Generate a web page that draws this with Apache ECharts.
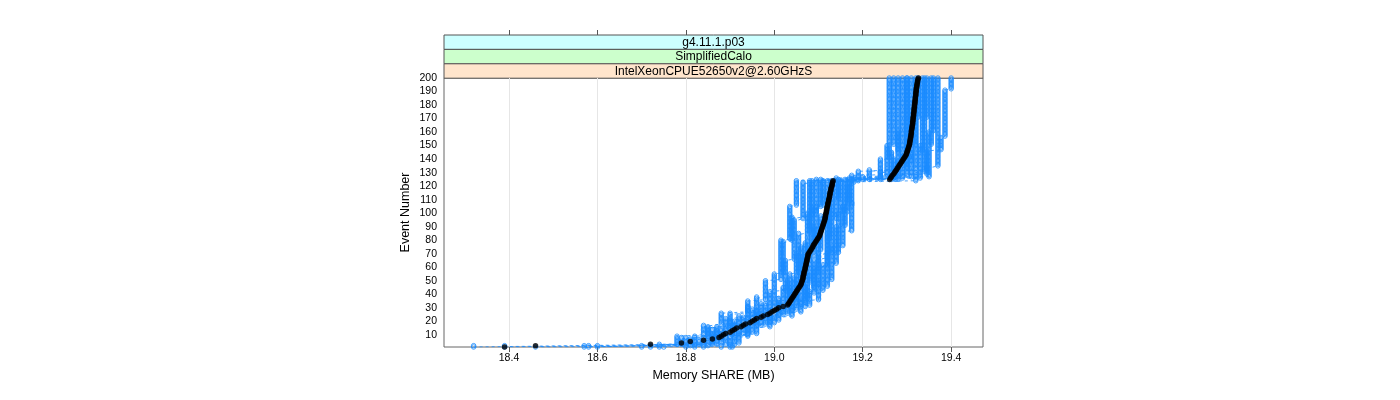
<!DOCTYPE html>
<html>
<head>
<meta charset="utf-8">
<title>Memory SHARE per event</title>
<script src="https://cdn.jsdelivr.net/npm/echarts@6/dist/echarts.min.js"></script>
<style>
  html, body { margin: 0; padding: 0; background: #fff; }
  #chart { width: 1400px; height: 400px; }
</style>
</head>
<body>
<div id="chart"></div>
<script>
// strip labels, outer to inner
var stripLabels = ['g4.11.1.p03', 'SimplifiedCalo', 'IntelXeonCPUE52650v2@2.60GHzS']
var stripColors = ['#ccffff', '#ccffcc', '#ffe5cc']

var xTicks = [18.4, 18.6, 18.8, 19.0, 19.2, 19.4]
var yTicks = [10, 20, 30, 40, 50, 60, 70, 80, 90, 100, 110, 120, 130, 140, 150, 160, 170, 180, 190, 200]

// median memory share (MB) for events 1..200
var medianShare = [
  18.39, 18.46, 18.72, 18.79, 18.81, 18.84, 18.86, 18.875, 18.88, 18.885,
  18.89, 18.90, 18.905, 18.91, 18.915, 18.925, 18.93, 18.935, 18.945, 18.95,
  18.955, 18.96, 18.97, 18.975, 18.985, 18.99, 18.995, 19.00, 19.005, 19.01,
  19.02, 19.03, 19.032, 19.034, 19.036, 19.038, 19.04, 19.042, 19.044, 19.046,
  19.048, 19.05, 19.052, 19.054, 19.056, 19.058, 19.06, 19.061, 19.062, 19.063,
  19.064, 19.065, 19.065, 19.066, 19.067, 19.067, 19.068, 19.069, 19.07, 19.07,
  19.071, 19.072, 19.072, 19.073, 19.074, 19.074, 19.075, 19.076, 19.076, 19.077,
  19.079, 19.081, 19.083, 19.085, 19.087, 19.088, 19.09, 19.092, 19.094, 19.096,
  19.098, 19.10, 19.102, 19.103, 19.104, 19.105, 19.106, 19.107, 19.108, 19.109,
  19.11, 19.111, 19.112, 19.113, 19.114, 19.115, 19.115, 19.116, 19.116, 19.117,
  19.118, 19.118, 19.119, 19.119, 19.12, 19.121, 19.121, 19.122, 19.123, 19.123,
  19.124, 19.125, 19.125, 19.126, 19.126, 19.127, 19.128, 19.128, 19.129, 19.13,
  19.131, 19.131, 19.132, 19.133, 19.261, 19.263, 19.265, 19.267, 19.27, 19.272,
  19.274, 19.276, 19.278, 19.28, 19.282, 19.284, 19.286, 19.288, 19.29, 19.292,
  19.294, 19.296, 19.298, 19.299, 19.30, 19.301, 19.302, 19.303, 19.304, 19.305,
  19.306, 19.306, 19.307, 19.307, 19.308, 19.308, 19.309, 19.309, 19.31, 19.31,
  19.31, 19.311, 19.311, 19.312, 19.312, 19.313, 19.313, 19.313, 19.314, 19.314,
  19.314, 19.315, 19.315, 19.315, 19.316, 19.316, 19.316, 19.317, 19.317, 19.317,
  19.318, 19.318, 19.318, 19.319, 19.319, 19.319, 19.32, 19.32, 19.32, 19.321,
  19.321, 19.321, 19.322, 19.322, 19.323, 19.323, 19.324, 19.324, 19.325, 19.326
]

// single runs, stored as [memory MB, number of consecutive events at that value]
var runA = [[18.32, 2], [18.78, 7], [18.84, 8], [18.88, 9], [18.94, 9], [18.98, 15], [19.015, 30], [19.035, 25], [19.05, 19], [19.24, 16], [19.26, 60]]
var runB = [[18.39, 2], [18.80, 6], [18.85, 7], [18.89, 7], [18.94, 9], [18.99, 11], [19.025, 23], [19.045, 30], [19.065, 28], [19.19, 3], [19.255, 24], [19.27, 50]]
var runC = [[18.46, 1], [18.81, 6], [18.86, 7], [18.90, 7], [18.95, 8], [19.00, 9], [19.035, 17], [19.055, 30], [19.08, 39], [19.265, 21], [19.28, 55]]
var runD = [[18.57, 2], [18.82, 7], [18.87, 7], [18.92, 8], [18.97, 9], [19.02, 12], [19.05, 25], [19.075, 30], [19.095, 25], [19.27, 15], [19.29, 60]]
var runE = [[18.58, 2], [18.83, 4], [18.87, 7], [18.91, 7], [18.96, 8], [19.01, 9], [19.045, 15], [19.07, 26], [19.095, 27], [19.11, 19], [19.275, 9], [19.30, 27], [19.31, 40]]
var runF = [[18.72, 2], [18.84, 6], [18.89, 7], [18.93, 8], [18.99, 8], [19.035, 14], [19.065, 23], [19.09, 22], [19.12, 34], [19.28, 14], [19.31, 32], [19.325, 30]]
var runG = [[18.74, 3], [18.86, 7], [18.91, 8], [18.96, 8], [19.01, 8], [19.05, 14], [19.08, 24], [19.105, 26], [19.13, 26], [19.20, 3], [19.30, 23], [19.32, 50]]
var runH = [[18.80, 2], [18.87, 7], [18.92, 7], [18.97, 8], [19.02, 8], [19.06, 12], [19.09, 22], [19.12, 29], [19.14, 31], [19.31, 19], [19.335, 55]]
var runI = [[18.82, 3], [18.88, 7], [18.93, 7], [18.98, 8], [19.03, 8], [19.07, 13], [19.10, 24], [19.13, 30], [19.15, 23], [19.32, 7], [19.34, 70]]
var runJ = [[18.84, 2], [18.89, 6], [18.94, 7], [18.99, 8], [19.04, 8], [19.08, 11], [19.11, 20], [19.14, 28], [19.16, 35], [19.33, 25], [19.355, 50]]
var runK = [[18.90, 3], [18.92, 7], [18.96, 8], [19.00, 8], [19.06, 9], [19.10, 15], [19.13, 25], [19.155, 30], [19.175, 23], [19.345, 6], [19.37, 66]]
var runL = [[18.88, 2], [18.90, 7], [18.94, 9], [18.99, 10], [19.05, 12], [19.09, 20], [19.12, 26], [19.175, 22], [19.17, 18], [19.19, 5], [19.345, 15], [19.377, 10], [19.386, 35], [19.40, 9]]
var runM = [[18.60, 2], [18.79, 6], [18.85, 8], [18.90, 10], [18.96, 12], [19.00, 17], [19.02, 24], [19.04, 18], [19.085, 27], [19.215, 8], [19.28, 28], [19.30, 40]]
var runN = [[18.75, 1], [18.85, 6], [18.88, 7], [18.94, 9], [18.98, 10], [19.03, 17], [19.06, 25], [19.085, 29], [19.105, 21], [19.29, 17], [19.30, 58]]
var runO = [[18.70, 2], [18.86, 7], [18.905, 8], [18.96, 10], [19.04, 9], [19.075, 18], [19.10, 26], [19.125, 30], [19.145, 15], [19.24, 6], [19.32, 39], [19.345, 30]]
var runP = [[18.905, 2], [18.91, 9], [18.95, 9], [19.01, 10], [19.07, 15], [19.12, 25], [19.145, 30], [19.165, 22], [19.18, 4], [19.35, 34], [19.36, 40]]

var runs = [runA, runB, runC, runD, runE, runF, runG, runH, runI, runJ, runK, runL, runM, runN, runO, runP]

// panel box in pixels
var panelLeft = 444, panelRight = 983, panelTop = 78, panelBottom = 347
var stripTop = 35, stripH = 14.4
var fontFamily = '"Liberation Sans", Arial, sans-serif'

// turn a run-length run into [memory, event] points, one per event
function runPoints (run) {
  var pts = []
  var ev = 1
  run.forEach(function (seg) {
    for (var k = 0; k < seg[1]; k++) {
      pts.push([seg[0], ev])
      ev++
    }
  })
  return pts
}

var series = runs.map(function (run) {
  return {
    type: 'line',
    data: runPoints(run),
    symbol: 'circle',
    symbolSize: 4.5,
    showAllSymbol: true,
    silent: true,
    itemStyle: { color: 'rgba(0,0,0,0)', borderColor: '#1a8cff', borderWidth: 0.8 },
    lineStyle: { color: '#1a8cff', width: 0.8, type: [3, 3] },
    z: 2
  }
})

series.push({
  type: 'scatter',
  data: medianShare.map(function (v, i) { return [v, i + 1] }),
  symbolSize: 5.5,
  silent: true,
  itemStyle: { color: '#000' },
  z: 5
})

// strips on top of the panel
var graphics = []
stripLabels.forEach(function (label, i) {
  var y = stripTop + i * stripH
  graphics.push({
    type: 'rect',
    shape: { x: panelLeft, y: y, width: panelRight - panelLeft, height: stripH },
    style: { fill: stripColors[i], stroke: '#555', lineWidth: 1 },
    silent: true
  })
  graphics.push({
    type: 'text',
    x: (panelLeft + panelRight) / 2,
    y: y + stripH / 2 + 0.5,
    style: {
      text: label,
      font: '12px ' + fontFamily,
      fill: '#000',
      align: 'center',
      verticalAlign: 'middle'
    },
    silent: true
  })
})

var myChart = echarts.init(document.getElementById('chart'))
myChart.setOption({
  animation: false,
  textStyle: { fontFamily: fontFamily },
  grid: {
    left: panelLeft,
    right: 1400 - panelRight,
    top: panelTop,
    bottom: 400 - panelBottom,
    show: true,
    borderColor: '#666',
    borderWidth: 1,
    backgroundColor: 'transparent'
  },
  xAxis: [
    {
      type: 'value',
      min: 18.253,
      max: 19.472,
      axisLine: { show: false },
      axisTick: { show: true, customValues: xTicks, length: 5, lineStyle: { color: '#555' } },
      axisLabel: {
        customValues: xTicks,
        fontSize: 10.5,
        color: '#000',
        margin: 6,
        formatter: function (v) { return v.toFixed(1) }
      },
      splitLine: { show: true, lineStyle: { color: '#e6e6e6', width: 1 } },
      name: 'Memory SHARE (MB)',
      nameLocation: 'middle',
      nameGap: 21,
      nameTextStyle: { fontSize: 12.5, color: '#000' }
    },
    {
      type: 'value',
      position: 'top',
      offset: panelTop - stripTop,
      min: 18.253,
      max: 19.472,
      axisLine: { show: false },
      axisTick: { show: true, customValues: xTicks, length: 5, lineStyle: { color: '#555' } },
      axisLabel: { show: false },
      splitLine: { show: false }
    }
  ],
  yAxis: {
    type: 'value',
    min: 1,
    max: 200,
    axisLine: { show: false },
    axisTick: { show: false, customValues: yTicks },
    axisLabel: { customValues: yTicks, fontSize: 10.5, color: '#000', margin: 7 },
    splitLine: { show: false },
    name: 'Event Number',
    nameLocation: 'middle',
    nameRotate: 90,
    nameGap: 32,
    nameTextStyle: { fontSize: 12.5, color: '#000' }
  },
  graphic: graphics,
  series: series
})
</script>
</body>
</html>
